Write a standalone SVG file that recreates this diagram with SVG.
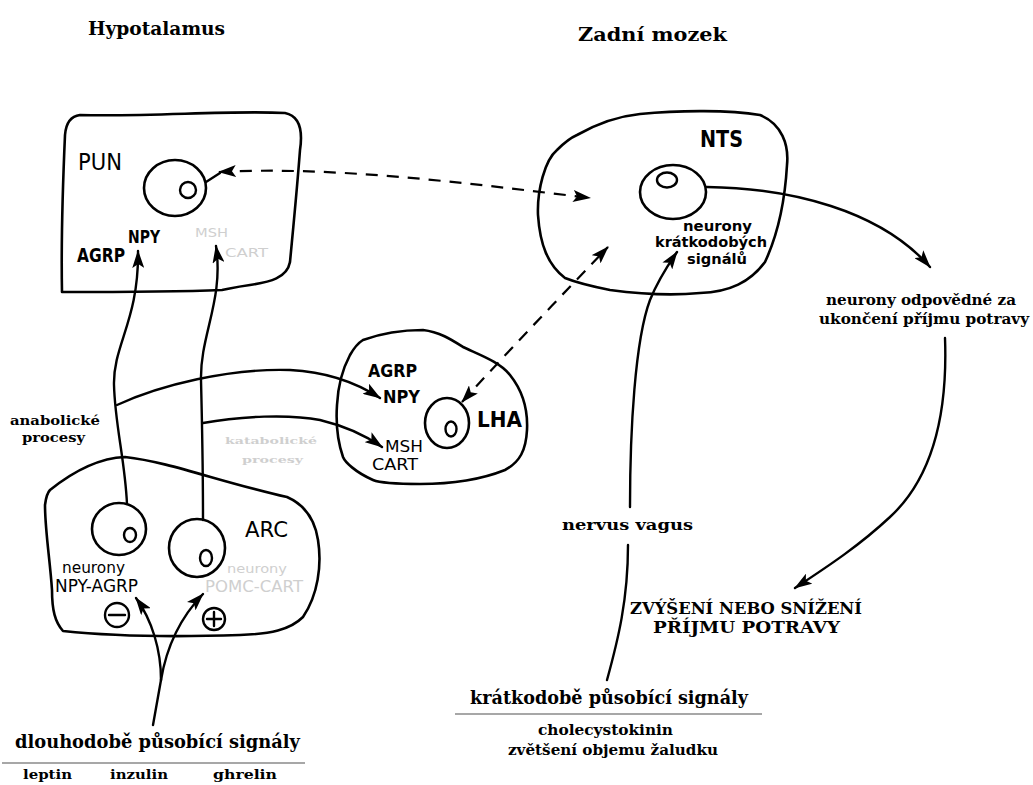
<svg xmlns="http://www.w3.org/2000/svg" width="1033" height="785" viewBox="0 0 1033 785">
<style>
.blob{fill:none;stroke:#000;stroke-width:2.6;stroke-linejoin:round}
.cell{fill:#fff;stroke:#000;stroke-width:2.6}
.nuc{fill:none;stroke:#000;stroke-width:2.4}
.ln{fill:none;stroke:#000;stroke-width:2.4;stroke-linecap:round}
.dash{fill:none;stroke:#000;stroke-width:2.2;stroke-dasharray:12 9}
.sf{font-family:"DejaVu Serif","Liberation Serif",serif;font-weight:bold;fill:#000}
.ss{font-family:"DejaVu Sans","Liberation Sans",sans-serif;fill:#000}
.b{font-weight:bold}
.faint{fill:#cfcfcf}
.rule{stroke:#8a8a8a;stroke-width:1.3}
</style>
<defs>
<marker id="ah" viewBox="0 0 18 12" refX="17" refY="6" markerWidth="18" markerHeight="12" markerUnits="userSpaceOnUse" orient="auto-start-reverse">
<path d="M0,0 L18,6 L0,12 L4,6 Z" fill="#000"/>
</marker>
</defs>

<g id="labels">
<text class="sf" x="88" y="35" font-size="19" textLength="137" lengthAdjust="spacingAndGlyphs">Hypotalamus</text>
<text class="sf" x="578" y="41" font-size="19" textLength="149" lengthAdjust="spacingAndGlyphs">Zadní mozek</text>
<text class="sf" x="10" y="425" font-size="13" textLength="90" lengthAdjust="spacingAndGlyphs">anabolické</text>
<text class="sf" x="22" y="442" font-size="13" textLength="63" lengthAdjust="spacingAndGlyphs">procesy</text>
<text class="sf faint" x="225" y="444" font-size="10" textLength="92" lengthAdjust="spacingAndGlyphs">katabolické</text>
<text class="sf faint" x="242" y="463" font-size="10" textLength="61" lengthAdjust="spacingAndGlyphs">procesy</text>
<text class="sf" x="826" y="305" font-size="14" textLength="190" lengthAdjust="spacingAndGlyphs">neurony odpovědné za</text>
<text class="sf" x="819" y="324" font-size="14" textLength="210" lengthAdjust="spacingAndGlyphs">ukončení příjmu potravy</text>
<text class="sf" x="630" y="614" font-size="16" textLength="232" lengthAdjust="spacingAndGlyphs">ZVÝŠENÍ NEBO SNÍŽENÍ</text>
<text class="sf" x="653" y="633" font-size="16" textLength="187" lengthAdjust="spacingAndGlyphs">PŘÍJMU POTRAVY</text>
<text class="sf" x="562" y="530" font-size="15" textLength="131" lengthAdjust="spacingAndGlyphs">nervus vagus</text>
<text class="sf" x="470" y="704" font-size="18" textLength="278" lengthAdjust="spacingAndGlyphs">krátkodobě působící signály</text>
<line class="rule" x1="455" y1="714" x2="762" y2="714"/>
<text class="sf" x="538" y="735" font-size="14" textLength="135" lengthAdjust="spacingAndGlyphs">cholecystokinin</text>
<text class="sf" x="508" y="755" font-size="14" textLength="210" lengthAdjust="spacingAndGlyphs">zvětšení objemu žaludku</text>
<text class="sf" x="15" y="748" font-size="18" textLength="285" lengthAdjust="spacingAndGlyphs">dlouhodobě působící signály</text>
<line class="rule" x1="2" y1="763" x2="305" y2="763"/>
<text class="sf" x="23" y="779" font-size="13" textLength="49" lengthAdjust="spacingAndGlyphs">leptin</text>
<text class="sf" x="110" y="779" font-size="13" textLength="58" lengthAdjust="spacingAndGlyphs">inzulin</text>
<text class="sf" x="213" y="779" font-size="13" textLength="64" lengthAdjust="spacingAndGlyphs">ghrelin</text>
</g>

<g id="pvn">
<path class="blob" d="M80,115 C150,117 230,110 285,113 C300,116 303,130 300,150 C297,190 293,230 290,262 C287,278 270,282 250,285 C235,287 228,289 222,290 C170,292 110,292 62,292 C61,240 63,180 65,135 C66,122 72,116 80,115 Z"/>
<ellipse class="cell" cx="175" cy="188" rx="31" ry="28"/>
<circle class="nuc" cx="188" cy="190" r="8"/>
<text class="ss" x="78" y="170" font-size="23" textLength="44" lengthAdjust="spacingAndGlyphs">PUN</text>
<text class="ss b" x="128" y="243" font-size="17" textLength="32" lengthAdjust="spacingAndGlyphs">NPY</text>
<text class="ss b" x="77" y="262" font-size="19" textLength="48" lengthAdjust="spacingAndGlyphs">AGRP</text>
<text class="ss faint" x="195" y="237" font-size="13" textLength="33" lengthAdjust="spacingAndGlyphs">MSH</text>
<text class="ss faint" x="225" y="257" font-size="13" textLength="43" lengthAdjust="spacingAndGlyphs">CART</text>
</g>

<g id="lha">
<path class="blob" d="M363,340 C385,332 405,330 423,330 C440,332 452,340 463,347 C480,355 500,362 510,375 C522,390 528,410 527,430 C526,450 520,462 505,470 C480,480 450,484 420,484 C395,484 380,483 373,480 C355,472 345,462 343,457 C337,440 336,420 337,405 C338,385 342,370 350,355 C354,348 358,343 363,340 Z"/>
<ellipse class="cell" cx="447" cy="423" rx="22" ry="25"/>
<ellipse class="nuc" cx="451" cy="429" rx="5.5" ry="7.5"/>
<text class="ss b" x="368" y="377" font-size="18" textLength="49" lengthAdjust="spacingAndGlyphs">AGRP</text>
<text class="ss b" x="383" y="403" font-size="17" textLength="37" lengthAdjust="spacingAndGlyphs">NPY</text>
<text class="ss" x="385" y="452" font-size="16" textLength="38" lengthAdjust="spacingAndGlyphs">MSH</text>
<text class="ss" x="372" y="470" font-size="16" textLength="46" lengthAdjust="spacingAndGlyphs">CART</text>
<text class="ss b" x="477" y="427" font-size="22" textLength="45" lengthAdjust="spacingAndGlyphs">LHA</text>
</g>

<g id="arc">
<path class="blob" d="M50,490 C75,470 100,458 125,457 C170,462 220,482 287,497 C305,505 315,520 318,540 C322,565 318,595 303,617 C290,630 270,634 240,635 C180,637 110,636 63,631 C55,622 52,610 52,590 C50,560 45,530 45,505 C46,497 48,492 50,490 Z"/>
<ellipse class="cell" cx="119" cy="529" rx="27" ry="26"/>
<ellipse class="nuc" cx="130" cy="535" rx="6" ry="7"/>
<ellipse class="cell" cx="197" cy="548" rx="28" ry="29"/>
<ellipse class="nuc" cx="206" cy="558" rx="6" ry="8"/>
<text class="ss" x="245" y="537" font-size="22" textLength="43" lengthAdjust="spacingAndGlyphs">ARC</text>
<text class="ss" x="62" y="573" font-size="16" textLength="63" lengthAdjust="spacingAndGlyphs">neurony</text>
<text class="ss" x="55" y="592" font-size="17" textLength="83" lengthAdjust="spacingAndGlyphs">NPY-AGRP</text>
<text class="ss faint" x="227" y="573" font-size="13" textLength="60" lengthAdjust="spacingAndGlyphs">neurony</text>
<text class="ss faint" x="205" y="592" font-size="16" textLength="98" lengthAdjust="spacingAndGlyphs">POMC-CART</text>
<circle class="nuc" cx="117" cy="615" r="12"/>
<line class="ln" x1="109" y1="615" x2="125" y2="615"/>
<circle class="nuc" cx="214" cy="619" r="11"/>
<line class="ln" x1="207" y1="619" x2="221" y2="619"/>
<line class="ln" x1="214" y1="612" x2="214" y2="626"/>
</g>

<g id="nts">
<path class="blob" d="M577,135 C600,122 620,116 640,114 C680,110 730,110 760,115 C782,124 789,145 787,165 C785,200 779,232 765,262 C750,282 730,292 700,293 C670,296 640,294 610,290 C590,286 575,282 565,278 C548,265 540,245 538,215 C537,190 545,160 557,150 C565,142 570,138 577,135 Z"/>
<ellipse class="cell" cx="673" cy="192" rx="33" ry="27"/>
<ellipse class="nuc" cx="667" cy="180" rx="10" ry="7.5"/>
<text class="ss b" x="700" y="147" font-size="23" textLength="43" lengthAdjust="spacingAndGlyphs">NTS</text>
<text class="ss b" x="683" y="231" font-size="14.5" textLength="69" lengthAdjust="spacingAndGlyphs">neurony</text>
<text class="ss b" x="655" y="247" font-size="14.5" textLength="112" lengthAdjust="spacingAndGlyphs">krátkodobých</text>
<text class="ss b" x="687" y="264" font-size="14.5" textLength="60" lengthAdjust="spacingAndGlyphs">signálů</text>
</g>

<g id="connectors">
<line class="ln" x1="206" y1="182" x2="220" y2="173"/>
<path class="dash" d="M219,172 C330,166 460,182 590,198" marker-start="url(#ah)" marker-end="url(#ah)"/>
<path class="dash" d="M462,402 C500,360 560,297 608,247" marker-start="url(#ah)" marker-end="url(#ah)"/>
<path class="ln" d="M127,504 C125,460 115,425 114,385 C113,345 139,320 138,251" marker-end="url(#ah)"/>
<path class="ln" d="M203,520 C203,470 202,420 201,380 C200,335 224,300 216,246" marker-end="url(#ah)"/>
<path class="ln" d="M117,405 C160,385 230,368 290,370 C330,372 360,385 380,398" marker-end="url(#ah)"/>
<path class="ln" d="M203,423 C240,416 290,414 320,420 C345,426 365,435 382,447" marker-end="url(#ah)"/>
<path class="ln" d="M153,725 L161,680"/>
<path class="ln" d="M161,680 C161,650 152,620 136,598" marker-end="url(#ah)"/>
<path class="ln" d="M161,680 C166,650 178,620 203,594" marker-end="url(#ah)"/>
<path class="ln" d="M630,507 C630,430 635,340 650,300 C658,280 668,265 677,252" marker-end="url(#ah)"/>
<path class="ln" d="M628,545 C628,600 618,640 607,680"/>
<path class="ln" d="M707,187 C790,188 880,210 930,267" marker-end="url(#ah)"/>
<path class="ln" d="M945,338 C948,420 930,480 890,517 C860,545 830,565 795,588" marker-end="url(#ah)"/>
</g>
</svg>
